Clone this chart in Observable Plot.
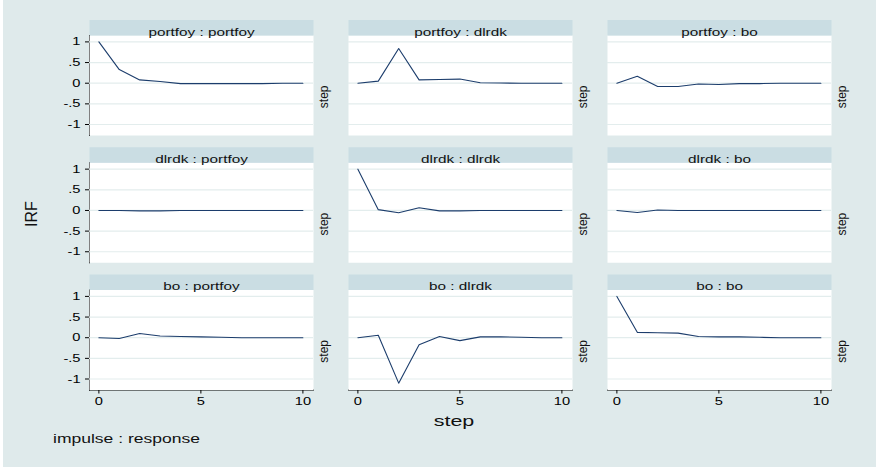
<!DOCTYPE html>
<html>
<head>
<meta charset="utf-8">
<script src="https://cdn.jsdelivr.net/npm/d3@7"></script>
<script src="https://cdn.jsdelivr.net/npm/@observablehq/plot@0.6"></script>
<style>
body { margin: 0; background: #fff; font-family: "Liberation Sans", Arial, sans-serif; }
#wrap { position: relative; width: 876px; height: 469px; overflow: hidden; }
#bg { position: absolute; left: 3px; top: 0; width: 873px; height: 467px; background: #dfeaeb; }
#chart { position: absolute; left: 0; top: 0; }
.lbl { position: absolute; white-space: nowrap; color: #111; }
#irf { left: 31.5px; top: 213.7px; font-size: 16px; line-height: 16px; transform: translate(-50%, -50%) rotate(-90deg); }
#xlab { left: 453.7px; top: 412.8px; font-size: 15px; line-height: 15px; transform: translateX(-50%) scaleX(1.43); transform-origin: center; }
#cap { left: 52.7px; top: 432.7px; font-size: 12.5px; line-height: 12.5px; transform: scaleX(1.4); transform-origin: left center; }
</style>
</head>
<body>
<div id="wrap">
  <div id="bg"></div>
  <div id="chart"></div>
  <div class="lbl" id="irf">IRF</div>
  <div class="lbl" id="xlab">step</div>
  <div class="lbl" id="cap">impulse : response</div>
</div>
<script>
// ---- data ----
const steps = [0, 1, 2, 3, 4, 5, 6, 7, 8, 9, 10];
const variables = ["portfoy", "dlrdk", "bo"];
const xTicks = [0, 5, 10];
const yTicks = [-1, -0.5, 0, 0.5, 1];
const yTickLabels = ["-1", "-.5", "0", ".5", "1"];

const portfoy_portfoy = [1, 0.33, 0.08, 0.04, -0.01, -0.01, -0.01, -0.01, -0.01, 0, 0];
const portfoy_dlrdk   = [0, 0.05, 0.84, 0.08, 0.09, 0.10, 0.01, 0.005, 0, 0, 0];
const portfoy_bo      = [0, 0.17, -0.08, -0.08, -0.02, -0.03, -0.01, -0.01, 0, 0, 0];
const dlrdk_portfoy   = [0, 0, -0.01, -0.01, 0, 0, 0, 0, 0, 0, 0];
const dlrdk_dlrdk     = [1, 0.02, -0.055, 0.065, -0.01, -0.01, 0, 0, 0, 0, 0];
const dlrdk_bo        = [0, -0.05, 0.01, 0, 0, 0, 0, 0, 0, 0, 0];
const bo_portfoy      = [0, -0.02, 0.10, 0.04, 0.03, 0.02, 0.01, 0, 0, 0, 0];
const bo_dlrdk        = [0, 0.06, -1.1, -0.17, 0.03, -0.07, 0.02, 0.02, 0.01, 0, 0];
const bo_bo           = [1, 0.13, 0.12, 0.11, 0.03, 0.02, 0.02, 0.01, 0, 0, 0];

const panels = [
  ["portfoy", "portfoy", portfoy_portfoy],
  ["portfoy", "dlrdk", portfoy_dlrdk],
  ["portfoy", "bo", portfoy_bo],
  ["dlrdk", "portfoy", dlrdk_portfoy],
  ["dlrdk", "dlrdk", dlrdk_dlrdk],
  ["dlrdk", "bo", dlrdk_bo],
  ["bo", "portfoy", bo_portfoy],
  ["bo", "dlrdk", bo_dlrdk],
  ["bo", "bo", bo_bo]
];

const data = panels.flatMap(([imp, res, vals]) =>
  vals.map((v, i) => ({impulse: imp, response: res, step: steps[i], irf: v})));
const titles = panels.map(([imp, res]) => ({impulse: imp, response: res, label: `${imp} : ${res}`}));

const bgStrip = "#cadde3";
const gridColor = "#e3eded";
const lineColor = "#1c3d6c";

const plot = Plot.plot({
  width: 876,
  height: 420,
  marginLeft: 89,
  marginRight: 45,
  marginTop: 35,
  marginBottom: 30.5,
  style: {background: "transparent", fontFamily: "Liberation Sans, Arial, sans-serif", fontSize: "11px", color: "#000"},
  fx: {domain: variables, paddingInner: 35 / 259, paddingOuter: 0, round: false, axis: null, label: null},
  fy: {domain: variables, paddingInner: 27.25 / 127.25, paddingOuter: 0, round: false, axis: null, label: null},
  x: {domain: [-0.46, 10.52], ticks: xTicks, tickSize: 4, tickPadding: 3, line: true, label: null},
  y: {domain: [-1.266, 1.155], ticks: yTicks, tickSize: 4, tickPadding: 5, line: true, label: null,
      tickFormat: d => yTickLabels[yTicks.indexOf(d)]},
  marks: [
    Plot.frame({fill: "white"}),
    Plot.frame({fill: bgStrip, insetTop: -15.5, insetBottom: 100}),
    Plot.ruleY(yTicks, {stroke: gridColor, strokeWidth: 1.2}),
    Plot.line(data, {x: "step", y: "irf", fx: "response", fy: "impulse", stroke: lineColor, strokeWidth: 1.1}),
    Plot.text(titles, {fx: "response", fy: "impulse", text: "label", frameAnchor: "top", dy: -8, fontSize: 11.5, fill: "#111"}),
    Plot.text(["step"], {text: d => d, frameAnchor: "right", dx: 10.5, rotate: -90, fontSize: 12, fill: "#111"})
  ]
});

document.getElementById("chart").append(plot);

// horizontal stretch of non-rotated texts to mimic the reference's aspect
const k = 1.33;
plot.querySelectorAll("text").forEach(t => {
  if ((t.getAttribute("transform") || "").includes("rotate")) return;
  const len = t.getComputedTextLength();
  if (len > 0) {
    t.setAttribute("textLength", (len * k).toFixed(2));
    t.setAttribute("lengthAdjust", "spacingAndGlyphs");
  }
});
</script>
</body>
</html>
